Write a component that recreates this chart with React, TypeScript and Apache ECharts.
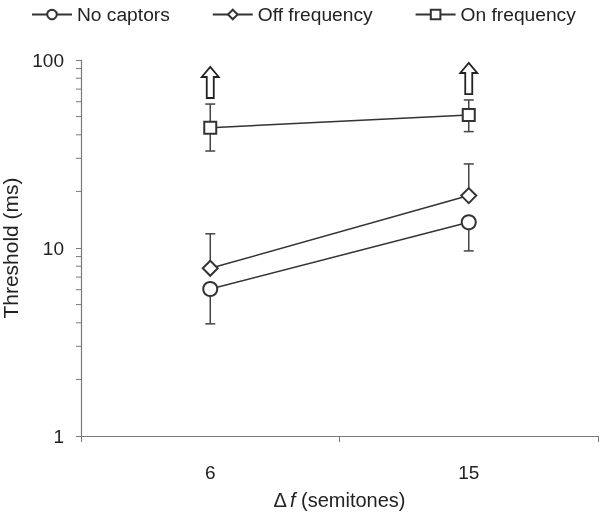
import React, { useEffect, useRef } from "react";
import * as echarts from "echarts";

const categories = ["6", "15"];
const seriesNames = ["No captors", "Off frequency", "On frequency"];
const noCaptors = [6.05, 13.7];
const offFrequency = [7.8, 19.0];
const onFrequency = [43.6, 51.0];
// error bars: [categoryIndex, low, high]
const noCaptorsErr = [[0, 3.95, 6.05], [1, 9.65, 13.7]];
const offFrequencyErr = [[0, 7.8, 11.9], [1, 19.0, 28.0]];
const onFrequencyErr = [[0, 32.8, 58.3], [1, 41.6, 61.3]];
// arrows: [categoryIndex, bottom, top]
const arrows = [[0, 62.8, 91.8], [1, 65.9, 96.4]];
const yMinorTicks = [2, 3, 4, 5, 6, 7, 8, 9, 20, 30, 40, 50, 60, 70, 80, 90];

const FONT = "'Liberation Sans', Arial, sans-serif";
const DARK = "#333";
const AXIS = "#7a7a7a";
const TEXT = "#222";

export default function App() {
  const ref = useRef<HTMLDivElement>(null);
  useEffect(() => {
    if (!ref.current) return;
    const chart = echarts.init(ref.current, null, { renderer: "svg" });

    const errRender = (showLowCap: boolean, showHighCap: boolean) => (params: any, api: any) => {
      const i = api.value(0);
      const lo = api.coord([i, api.value(1)]);
      const hi = api.coord([i, api.value(2)]);
      const cw = 5;
      const st = { stroke: "#444", lineWidth: 1.5 };
      const children: any[] = [
        { type: "line", shape: { x1: lo[0], y1: lo[1], x2: hi[0], y2: hi[1] }, style: st },
      ];
      if (showLowCap) children.push({ type: "line", shape: { x1: lo[0] - cw, y1: lo[1], x2: lo[0] + cw, y2: lo[1] }, style: st });
      if (showHighCap) children.push({ type: "line", shape: { x1: hi[0] - cw, y1: hi[1], x2: hi[0] + cw, y2: hi[1] }, style: st });
      return { type: "group", children };
    };

    const lineBase = {
      type: "line",
      lineStyle: { color: DARK, width: 1.5 },
      itemStyle: { color: DARK, borderColor: DARK, borderWidth: 1.5 },
      z: 3,
    };

    chart.setOption({
      animation: false,
      textStyle: { fontFamily: FONT },
      legend: {
        left: 31,
        top: 5,
        padding: 0,
        itemWidth: 40,
        itemHeight: 12,
        itemGap: 42,
        textStyle: { fontSize: 19.2, color: TEXT, fontFamily: FONT, padding: [0, 0, 0, 0] },
        data: seriesNames,
      },
      grid: { left: 81, right: 2, top: 60, bottom: 76, containLabel: false, outerBoundsMode: "none" },
      xAxis: {
        type: "category",
        data: categories,
        boundaryGap: true,
        axisLine: { lineStyle: { color: AXIS, width: 1.2 } },
        axisTick: { show: true, length: 6, lineStyle: { color: AXIS } },
        axisLabel: { fontSize: 19, color: TEXT, margin: 27, fontFamily: FONT },
        name: "{d|Δ}{i|f} (semitones)",
        nameLocation: "middle",
        nameGap: 54,
        nameTextStyle: {
          fontSize: 20,
          color: TEXT,
          fontFamily: FONT,
          rich: {
            d: { fontSize: 20, color: TEXT, fontFamily: FONT, padding: [0, 3, 0, 0] },
            i: { fontSize: 20, color: TEXT, fontFamily: FONT, fontStyle: "italic" },
          },
        },
      },
      yAxis: {
        type: "log",
        logBase: 10,
        min: 1,
        max: 100,
        splitLine: { show: false },
        axisLine: { show: true, lineStyle: { color: AXIS, width: 1.2 } },
        axisTick: { show: true, length: 5, lineStyle: { color: AXIS } },
        axisLabel: { fontSize: 19, color: TEXT, margin: 17, fontFamily: FONT },
        name: "Threshold (ms)",
        nameLocation: "middle",
        nameGap: 58,
        nameTextStyle: { fontSize: 21, color: TEXT, fontFamily: FONT },
      },
      series: [
        {
          type: "custom",
          name: "minorTicks",
          silent: true,
          clip: false,
          z: 1,
          data: yMinorTicks.map((v) => [0, v]),
          renderItem: (params: any, api: any) => {
            const p = api.coord([0, api.value(1)]);
            const x0 = params.coordSys.x;
            return {
              type: "line",
              shape: { x1: x0 - 5, y1: p[1], x2: x0, y2: p[1] },
              style: { stroke: AXIS, lineWidth: 1 },
            };
          },
        },
        { type: "custom", name: "errNo", z: 1, clip: false, data: noCaptorsErr, renderItem: errRender(true, false) },
        { type: "custom", name: "errOff", z: 1, clip: false, data: offFrequencyErr, renderItem: errRender(false, true) },
        { type: "custom", name: "errOn", z: 1, clip: false, data: onFrequencyErr, renderItem: errRender(true, true) },
        {
          type: "custom",
          name: "arrows",
          z: 1,
          clip: false,
          data: arrows,
          renderItem: (params: any, api: any) => {
            const i = api.value(0);
            const b = api.coord([i, api.value(1)]);
            const t = api.coord([i, api.value(2)]);
            const x = b[0];
            const sw = 3.5;
            const hw = 8.5;
            const hh = 10;
            return {
              type: "polygon",
              shape: {
                points: [
                  [x - sw, b[1]],
                  [x - sw, t[1] + hh],
                  [x - hw, t[1] + hh],
                  [x, t[1]],
                  [x + hw, t[1] + hh],
                  [x + sw, t[1] + hh],
                  [x + sw, b[1]],
                ],
              },
              style: { fill: "#fff", stroke: "#222", lineWidth: 1.8 },
            };
          },
        },
        { ...lineBase, name: "No captors", data: noCaptors, symbol: "emptyCircle", symbolSize: 14 },
        { ...lineBase, name: "Off frequency", data: offFrequency, symbol: "emptyDiamond", symbolSize: 15 },
        { ...lineBase, name: "On frequency", data: onFrequency, symbol: "emptyRect", symbolSize: 12 },
      ],
    });
    return () => chart.dispose();
  }, []);
  return <div ref={ref} style={{ position: "fixed", left: 0, top: 0, width: 600, height: 512 }} />;
}
